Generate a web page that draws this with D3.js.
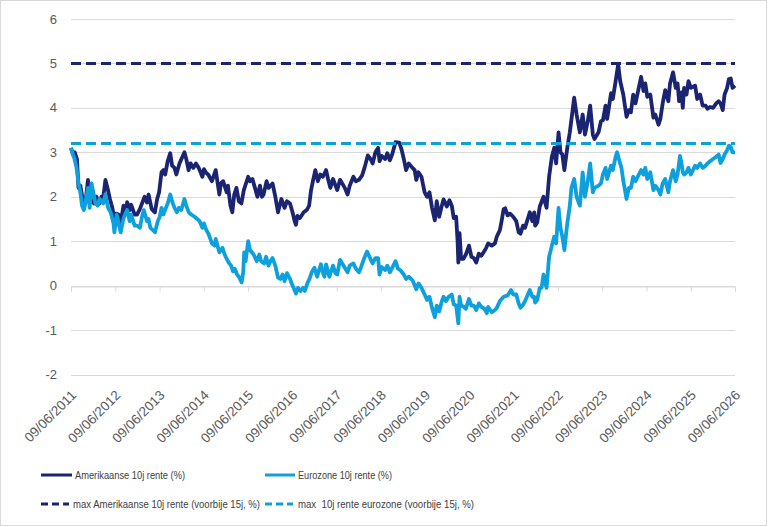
<!DOCTYPE html>
<html>
<head>
<meta charset="utf-8">
<script src="https://cdn.jsdelivr.net/npm/d3@7"></script>
<style>
  html, body { margin: 0; padding: 0; background: #fff; }
  svg { display: block; font-family: "Liberation Sans", Arial, sans-serif; }
</style>
</head>
<body>
<svg id="chart" width="768" height="527"></svg>
<script>
// ---------------- DATA ----------------
const seriesNames = ["Amerikaanse 10j rente (%)", "Eurozone 10j rente (%)",
  "max Amerikaanse 10j rente (voorbije 15j, %)", "max  10j rente eurozone (voorbije 15j, %)"];

const yTicks = [-2, -1, 0, 1, 2, 3, 4, 5, 6];
const xTickLabels = ["09/06/2011","09/06/2012","09/06/2013","09/06/2014","09/06/2015","09/06/2016",
  "09/06/2017","09/06/2018","09/06/2019","09/06/2020","09/06/2021","09/06/2022","09/06/2023",
  "09/06/2024","09/06/2025","09/06/2026"];

const maxUS = 5.0;
const maxEuro = 3.2;

const usDates = ["2011-06-09","2011-06-25","2011-07-10","2011-07-28","2011-08-10","2011-08-25","2011-09-10","2011-09-22","2011-10-05","2011-10-27","2011-11-10","2011-11-25","2011-12-15","2012-01-05","2012-01-30","2012-02-15","2012-03-01","2012-03-19","2012-04-05","2012-04-25","2012-05-15","2012-06-01","2012-06-15","2012-07-05","2012-07-24","2012-08-15","2012-09-05","2012-09-14","2012-10-05","2012-10-18","2012-11-15","2012-12-05","2012-12-28","2013-01-15","2013-02-05","2013-02-25","2013-03-10","2013-04-05","2013-05-01","2013-05-20","2013-06-05","2013-06-25","2013-07-10","2013-07-25","2013-08-15","2013-09-05","2013-09-20","2013-10-10","2013-10-25","2013-11-20","2013-12-31","2014-01-15","2014-02-03","2014-02-20","2014-03-15","2014-04-05","2014-04-28","2014-05-28","2014-06-10","2014-06-25","2014-07-15","2014-08-15","2014-09-15","2014-10-15","2014-10-28","2014-11-15","2014-12-15","2014-12-25","2015-01-15","2015-01-30","2015-02-15","2015-03-05","2015-03-25","2015-04-15","2015-05-05","2015-06-10","2015-06-25","2015-07-15","2015-08-05","2015-08-25","2015-09-15","2015-10-01","2015-10-15","2015-11-09","2015-11-25","2015-12-28","2016-01-20","2016-02-11","2016-03-10","2016-04-05","2016-04-25","2016-05-20","2016-06-10","2016-06-27","2016-07-08","2016-07-20","2016-08-10","2016-09-10","2016-10-05","2016-10-25","2016-11-10","2016-11-25","2016-12-15","2017-01-05","2017-01-25","2017-02-15","2017-03-14","2017-03-30","2017-04-18","2017-05-10","2017-06-14","2017-07-07","2017-07-25","2017-08-15","2017-09-07","2017-09-25","2017-10-25","2017-11-15","2017-12-10","2018-01-05","2018-01-25","2018-02-21","2018-03-15","2018-04-02","2018-04-25","2018-05-17","2018-05-29","2018-06-15","2018-07-15","2018-08-01","2018-08-22","2018-09-10","2018-10-08","2018-11-08","2018-11-28","2018-12-15","2019-01-03","2019-01-25","2019-02-25","2019-03-15","2019-03-28","2019-04-15","2019-05-10","2019-06-05","2019-06-25","2019-07-15","2019-08-05","2019-08-28","2019-09-13","2019-10-03","2019-10-25","2019-11-08","2019-12-05","2019-12-27","2020-01-15","2020-01-31","2020-02-20","2020-03-03","2020-03-09","2020-03-19","2020-04-01","2020-04-20","2020-05-10","2020-06-05","2020-06-25","2020-07-15","2020-08-04","2020-08-25","2020-09-15","2020-10-10","2020-10-25","2020-11-10","2020-12-10","2021-01-05","2021-01-20","2021-02-15","2021-03-01","2021-03-18","2021-03-31","2021-04-20","2021-05-10","2021-06-05","2021-06-30","2021-07-20","2021-08-04","2021-08-25","2021-09-10","2021-10-20","2021-11-10","2021-11-25","2021-12-03","2021-12-20","2022-01-10","2022-02-10","2022-03-07","2022-03-28","2022-04-20","2022-05-09","2022-05-25","2022-06-14","2022-06-30","2022-07-15","2022-08-01","2022-08-25","2022-09-15","2022-10-21","2022-11-10","2022-12-07","2022-12-30","2023-01-18","2023-02-10","2023-03-02","2023-03-24","2023-04-06","2023-05-10","2023-05-30","2023-06-15","2023-07-07","2023-07-20","2023-08-21","2023-09-05","2023-09-28","2023-10-19","2023-11-05","2023-11-30","2023-12-27","2024-01-15","2024-02-01","2024-02-20","2024-03-10","2024-04-25","2024-05-15","2024-05-30","2024-06-15","2024-07-10","2024-08-05","2024-08-20","2024-09-16","2024-10-01","2024-10-20","2024-11-10","2024-12-06","2024-12-20","2025-01-14","2025-02-05","2025-02-20","2025-03-05","2025-03-25","2025-04-04","2025-04-15","2025-05-05","2025-05-21","2025-06-10","2025-07-15","2025-08-01","2025-08-25","2025-09-15","2025-10-10","2025-10-25","2025-11-15","2025-12-10","2026-01-05","2026-01-25","2026-02-10","2026-02-28","2026-03-15","2026-04-05","2026-04-20","2026-05-05","2026-05-20","2026-06-09"];
const usValues = [3.1,2.95,3.0,2.85,2.2,2.25,2.0,1.8,1.85,2.38,2.0,1.92,1.85,2.0,1.85,2.0,1.98,2.38,2.2,1.95,1.75,1.5,1.62,1.6,1.42,1.8,1.6,1.88,1.7,1.82,1.6,1.6,1.72,1.85,2.0,1.87,2.05,1.72,1.65,1.95,2.1,2.55,2.6,2.5,2.8,2.98,2.7,2.65,2.5,2.75,3.0,2.85,2.6,2.75,2.65,2.75,2.65,2.45,2.62,2.55,2.5,2.35,2.6,2.05,2.3,2.35,2.1,2.25,1.8,1.65,2.05,2.2,1.9,1.85,2.15,2.45,2.35,2.4,2.2,2.0,2.25,2.0,2.05,2.35,2.2,2.3,2.0,1.65,1.95,1.75,1.9,1.85,1.65,1.45,1.37,1.57,1.52,1.65,1.7,1.8,2.15,2.35,2.6,2.35,2.5,2.45,2.6,2.4,2.2,2.4,2.15,2.38,2.3,2.2,2.05,2.25,2.45,2.35,2.38,2.48,2.65,2.93,2.85,2.75,3.0,3.1,2.8,2.92,2.85,2.98,2.82,2.95,3.23,3.22,3.05,2.85,2.6,2.75,2.65,2.6,2.38,2.55,2.45,2.1,2.0,2.1,1.75,1.47,1.9,1.55,1.8,1.94,1.78,1.92,1.8,1.52,1.55,1.0,0.52,1.18,0.6,0.6,0.7,0.9,0.65,0.62,0.52,0.72,0.67,0.78,0.85,0.95,0.9,0.95,1.1,1.25,1.45,1.72,1.74,1.58,1.62,1.55,1.45,1.2,1.17,1.35,1.3,1.65,1.45,1.65,1.35,1.42,1.78,2.0,1.75,2.45,2.9,3.1,2.75,3.45,3.0,2.95,2.6,3.1,3.45,4.23,3.85,3.45,3.85,3.4,3.7,4.05,3.4,3.3,3.45,3.7,3.72,4.05,3.75,4.33,4.2,4.6,4.98,4.6,4.3,3.8,3.95,3.9,4.3,4.1,4.7,4.38,4.55,4.25,4.3,3.78,3.85,3.62,3.75,4.1,4.4,4.15,4.55,4.8,4.45,4.55,4.15,4.35,4.0,4.45,4.3,4.6,4.45,4.5,4.2,4.3,4.05,4.05,3.98,4.02,4.0,4.1,4.15,4.1,3.95,4.3,4.45,4.65,4.66,4.45,4.5];

const euDates = ["2011-06-09","2011-06-25","2011-07-08","2011-07-25","2011-08-10","2011-08-25","2011-09-08","2011-09-23","2011-10-05","2011-10-27","2011-11-10","2011-11-25","2011-12-10","2011-12-28","2012-01-15","2012-02-01","2012-03-01","2012-03-19","2012-04-10","2012-05-01","2012-05-25","2012-06-01","2012-06-20","2012-07-10","2012-07-23","2012-08-10","2012-08-20","2012-09-14","2012-10-05","2012-10-18","2012-11-15","2012-12-05","2012-12-28","2013-01-15","2013-01-30","2013-02-25","2013-03-10","2013-03-25","2013-04-15","2013-05-02","2013-05-25","2013-06-10","2013-06-25","2013-07-10","2013-08-15","2013-09-05","2013-09-20","2013-10-10","2013-10-30","2013-11-15","2013-12-05","2013-12-31","2014-01-15","2014-02-05","2014-02-25","2014-03-25","2014-04-15","2014-05-05","2014-05-28","2014-06-10","2014-06-30","2014-07-20","2014-08-15","2014-09-05","2014-09-15","2014-10-15","2014-11-10","2014-11-28","2014-12-15","2015-01-05","2015-01-20","2015-02-05","2015-02-20","2015-03-10","2015-03-25","2015-04-17","2015-04-30","2015-05-08","2015-05-20","2015-06-10","2015-06-25","2015-07-10","2015-07-25","2015-08-20","2015-09-10","2015-09-25","2015-10-20","2015-11-05","2015-11-25","2015-12-10","2015-12-28","2016-01-20","2016-02-11","2016-03-01","2016-03-20","2016-04-05","2016-04-25","2016-05-20","2016-06-10","2016-06-27","2016-07-08","2016-07-25","2016-08-15","2016-09-05","2016-09-20","2016-10-10","2016-10-28","2016-11-15","2016-12-08","2016-12-30","2017-01-15","2017-01-30","2017-02-15","2017-02-28","2017-03-14","2017-04-10","2017-05-10","2017-05-30","2017-06-14","2017-07-07","2017-07-25","2017-08-20","2017-09-07","2017-09-25","2017-10-25","2017-11-15","2017-12-10","2017-12-28","2018-01-20","2018-02-15","2018-03-15","2018-04-02","2018-04-25","2018-05-17","2018-05-29","2018-06-15","2018-07-15","2018-08-01","2018-08-22","2018-09-10","2018-10-08","2018-10-28","2018-11-15","2018-12-15","2019-01-03","2019-01-25","2019-02-25","2019-03-28","2019-04-15","2019-05-10","2019-06-05","2019-06-25","2019-07-15","2019-08-05","2019-08-28","2019-09-13","2019-10-03","2019-10-25","2019-11-08","2019-11-28","2019-12-20","2020-01-15","2020-01-31","2020-02-20","2020-03-09","2020-03-19","2020-04-01","2020-04-20","2020-05-10","2020-06-05","2020-06-25","2020-07-15","2020-08-04","2020-08-25","2020-09-15","2020-10-10","2020-10-30","2020-11-10","2020-12-10","2021-01-05","2021-01-20","2021-02-15","2021-03-01","2021-03-18","2021-04-20","2021-05-18","2021-06-05","2021-06-30","2021-07-20","2021-08-04","2021-08-25","2021-09-10","2021-10-20","2021-11-10","2021-11-25","2021-12-03","2021-12-20","2022-01-10","2022-01-25","2022-02-10","2022-03-07","2022-03-28","2022-04-20","2022-05-09","2022-05-25","2022-06-14","2022-06-30","2022-07-15","2022-08-01","2022-08-25","2022-09-15","2022-09-28","2022-10-21","2022-11-10","2022-12-07","2022-12-30","2023-01-18","2023-02-10","2023-03-02","2023-03-24","2023-04-06","2023-05-10","2023-05-30","2023-06-15","2023-07-07","2023-07-20","2023-08-21","2023-09-05","2023-09-28","2023-10-10","2023-10-25","2023-11-15","2023-12-01","2023-12-27","2024-01-15","2024-02-01","2024-02-20","2024-03-10","2024-04-25","2024-05-15","2024-05-30","2024-06-15","2024-07-10","2024-08-05","2024-08-20","2024-09-16","2024-10-01","2024-10-20","2024-11-10","2024-12-06","2024-12-20","2025-01-14","2025-02-05","2025-02-20","2025-03-12","2025-03-25","2025-04-04","2025-04-15","2025-05-05","2025-05-21","2025-06-10","2025-07-15","2025-08-01","2025-08-25","2025-09-15","2025-10-10","2025-10-25","2025-11-15","2025-12-10","2026-01-05","2026-01-25","2026-02-10","2026-02-28","2026-03-15","2026-04-05","2026-04-20","2026-05-05","2026-05-20","2026-06-09"];
const euValues = [3.1,2.95,2.85,2.65,2.3,2.1,1.8,1.7,1.85,2.2,1.75,2.3,2.1,1.85,1.8,1.95,1.85,2.05,1.75,1.65,1.4,1.2,1.6,1.35,1.2,1.45,1.55,1.7,1.45,1.6,1.35,1.35,1.3,1.55,1.7,1.45,1.5,1.3,1.25,1.2,1.45,1.55,1.75,1.6,1.85,2.05,1.9,1.75,1.65,1.75,1.7,1.95,1.8,1.65,1.6,1.55,1.5,1.45,1.3,1.4,1.25,1.15,0.95,0.9,1.05,0.75,0.85,0.7,0.6,0.5,0.45,0.32,0.38,0.25,0.2,0.07,0.3,0.75,0.55,1.0,0.8,0.75,0.7,0.55,0.7,0.55,0.5,0.65,0.45,0.55,0.62,0.45,0.18,0.15,0.25,0.1,0.28,0.15,0.0,-0.1,-0.18,-0.05,-0.12,-0.05,-0.12,0.05,0.15,0.3,0.4,0.2,0.35,0.48,0.3,0.2,0.48,0.2,0.45,0.28,0.25,0.58,0.5,0.38,0.3,0.45,0.5,0.38,0.3,0.42,0.6,0.77,0.6,0.5,0.62,0.62,0.25,0.42,0.35,0.45,0.3,0.4,0.55,0.38,0.35,0.25,0.15,0.2,0.12,-0.08,0.05,-0.05,-0.2,-0.32,-0.25,-0.5,-0.71,-0.45,-0.58,-0.35,-0.25,-0.35,-0.25,-0.2,-0.42,-0.45,-0.85,-0.25,-0.45,-0.47,-0.52,-0.3,-0.45,-0.45,-0.55,-0.4,-0.48,-0.52,-0.62,-0.48,-0.6,-0.55,-0.5,-0.35,-0.3,-0.25,-0.22,-0.1,-0.2,-0.2,-0.4,-0.5,-0.43,-0.35,-0.1,-0.25,-0.25,-0.38,-0.32,-0.05,-0.05,0.25,-0.05,0.65,0.9,1.1,0.95,1.75,1.3,1.1,0.8,1.4,1.8,2.2,2.4,2.0,1.8,2.55,2.0,2.35,2.75,2.1,2.2,2.25,2.3,2.5,2.65,2.4,2.7,2.6,2.9,3.0,2.85,2.65,2.35,1.95,2.2,2.2,2.45,2.35,2.6,2.5,2.65,2.4,2.55,2.15,2.25,2.15,2.05,2.3,2.4,2.1,2.35,2.6,2.35,2.5,2.92,2.75,2.55,2.5,2.55,2.65,2.5,2.7,2.65,2.75,2.65,2.7,2.75,2.8,2.85,2.9,2.95,2.76,2.85,2.95,3.05,3.15,3.12,3.0,3.0];

// ---------------- LAYOUT ----------------
const svg = d3.select("#chart");
const plot = { left: 71, right: 735, top: 19, bottom: 374.5 };
const navy = "#1b2471", light = "#0ea0dc";
const textGray = "#595959";

svg.append("rect").attr("x", 0.5).attr("y", 0.5).attr("width", 766).attr("height", 525)
  .attr("fill", "#fff").attr("stroke", "#d9d9d9").attr("stroke-width", 1);

const parse = d3.timeParse("%Y-%m-%d");
const parseTick = d3.timeParse("%d/%m/%Y");
const tickDates = xTickLabels.map(parseTick);

const x = d3.scaleTime().domain([tickDates[0], tickDates[tickDates.length - 1]]).range([plot.left, plot.right]);
const y = d3.scaleLinear().domain([-2, 6]).range([plot.bottom, plot.top]);

// gridlines
svg.append("g").selectAll("line").data(yTicks).join("line")
  .attr("x1", plot.left).attr("x2", plot.right)
  .attr("y1", d => Math.round(y(d)) + 0.5).attr("y2", d => Math.round(y(d)) + 0.5)
  .attr("stroke", "#d9d9d9").attr("stroke-width", 1);

// y axis labels
svg.append("g").selectAll("text").data(yTicks).join("text")
  .attr("x", 57).attr("y", d => y(d)).attr("dy", "0.35em")
  .attr("text-anchor", "end").attr("fill", textGray).attr("font-size", 13)
  .text(d => d);

// x axis: line at 0 with tick marks
const xAxisG = svg.append("g").attr("transform", `translate(0,${Math.round(y(0)) + 0.5})`);
xAxisG.call(d3.axisBottom(x).tickValues(tickDates).tickSize(5).tickFormat(""));
xAxisG.select(".domain").attr("stroke", "#d9d9d9");
xAxisG.selectAll(".tick line").attr("stroke", "#d9d9d9");

// x labels at bottom, rotated
svg.append("g").selectAll("text").data(tickDates).join("text")
  .attr("transform", (d) => `translate(${x(d) + 6},${396}) rotate(-45)`)
  .attr("text-anchor", "end").attr("fill", textGray).attr("font-size", 13.5)
  .text((d, i) => xTickLabels[i]);

// lines
const line = d3.line().x(d => x(d[0])).y(d => y(d[1])).curve(d3.curveLinear);
const usData = usDates.map((d, i) => [parse(d), usValues[i]]);
const euData = euDates.map((d, i) => [parse(d), euValues[i]]);

svg.append("path").datum(usData).attr("d", line).attr("fill", "none")
  .attr("stroke", navy).attr("stroke-width", 3.8).attr("stroke-linejoin", "round");
svg.append("path").datum(euData).attr("d", line).attr("fill", "none")
  .attr("stroke", light).attr("stroke-width", 3.8).attr("stroke-linejoin", "round");

// max dashed lines
const domain = x.domain();
svg.append("path").datum([[domain[0], maxEuro], [domain[1], maxEuro]]).attr("d", line)
  .attr("fill", "none").attr("stroke", light).attr("stroke-width", 3).attr("stroke-dasharray", "10,5");
svg.append("path").datum([[domain[0], maxUS], [domain[1], maxUS]]).attr("d", line)
  .attr("fill", "none").attr("stroke", navy).attr("stroke-width", 3).attr("stroke-dasharray", "10,5");

// legend
const legendItems = [
  { name: seriesNames[0], color: navy, dash: null, lx: 41, lw: 31, tx: 75, ty: 475, tl: 110 },
  { name: seriesNames[1], color: light, dash: null, lx: 265, lw: 30, tx: 298, ty: 475, tl: 94 },
  { name: seriesNames[2], color: navy, dash: "7,4", lx: 41, lw: 28, tx: 73, ty: 504, tl: 187 },
  { name: seriesNames[3], color: light, dash: "7,4", lx: 265, lw: 28, tx: 298, ty: 504, tl: 176 }
];
const lg = svg.append("g");
legendItems.forEach(it => {
  lg.append("line").attr("x1", it.lx).attr("x2", it.lx + it.lw).attr("y1", it.ty).attr("y2", it.ty)
    .attr("stroke", it.color).attr("stroke-width", 3)
    .attr("stroke-dasharray", it.dash);
  lg.append("text").attr("x", it.tx).attr("y", it.ty).attr("dy", "0.35em")
    .attr("fill", "#404040").attr("font-size", 11)
    .attr("textLength", it.tl).attr("lengthAdjust", "spacingAndGlyphs")
    .style("white-space", "pre")
    .text(it.name);
});
</script>
</body>
</html>
